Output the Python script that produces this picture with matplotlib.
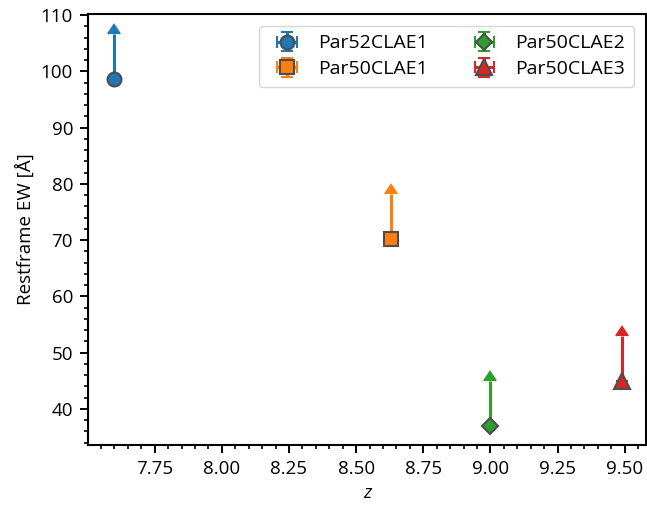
import matplotlib
matplotlib.use("Agg")
import matplotlib.pyplot as plt
from matplotlib.ticker import MultipleLocator

plt.rcParams['font.family'] = ['Open Sans', 'DejaVu Sans']

names = ["Par52CLAE1", "Par50CLAE1", "Par50CLAE2", "Par50CLAE3"]
redshift = [7.60, 8.63, 9.00, 9.49]
ew = [98.7, 70.2, 36.9, 45.0]
ew_arrow = [8.0, 8.0, 8.0, 8.0]
markers = ["o", "s", "D", "^"]
colors = ["#1f77b4", "#ff7f0e", "#2ca02c", "#d62728"]
msizes = [10, 10, 8, 11]

fig = plt.figure(figsize=(6.47, 5.07), dpi=100)
ax = fig.add_axes([88.3 / 647, (507 - 445) / 507, (645.7 - 88.3) / 647, (445 - 14) / 507])

for z, w, dw, m, c, ms, name in zip(redshift, ew, ew_arrow, markers, colors, msizes, names):
    ax.errorbar([z], [w], yerr=[dw], xerr=[0.0], lolims=True, fmt=m, color=c,
                mfc=c, mec="#4d4d4d", mew=1.5, ms=ms, elinewidth=2.2,
                capsize=4.5, capthick=2, label=name, zorder=3)

ax.set_xlim(7.503, 9.578)
ax.set_ylim(33.6, 110.2)
ax.xaxis.set_major_locator(MultipleLocator(0.25))
ax.xaxis.set_minor_locator(MultipleLocator(0.05))
ax.yaxis.set_major_locator(MultipleLocator(10))
ax.yaxis.set_minor_locator(MultipleLocator(2))
ax.tick_params(which="both", direction="out", top=False, right=False, labelsize=13.5)
ax.tick_params(which="major", length=6, width=1.4, pad=5)
ax.tick_params(which="minor", length=3, width=1.2)
for sp in ax.spines.values():
    sp.set_linewidth(1.5)

ax.set_xlabel("z", style="italic", fontsize=13.5)
ax.set_ylabel("Restframe EW [Å]", fontsize=13.5)

ax.legend(loc="upper right", ncol=2, fontsize=14, frameon=True,
          borderpad=0.45, columnspacing=1.9, handletextpad=0.6,
          borderaxespad=0.6, labelspacing=0.4)

fig.savefig("out.png", dpi=100)
